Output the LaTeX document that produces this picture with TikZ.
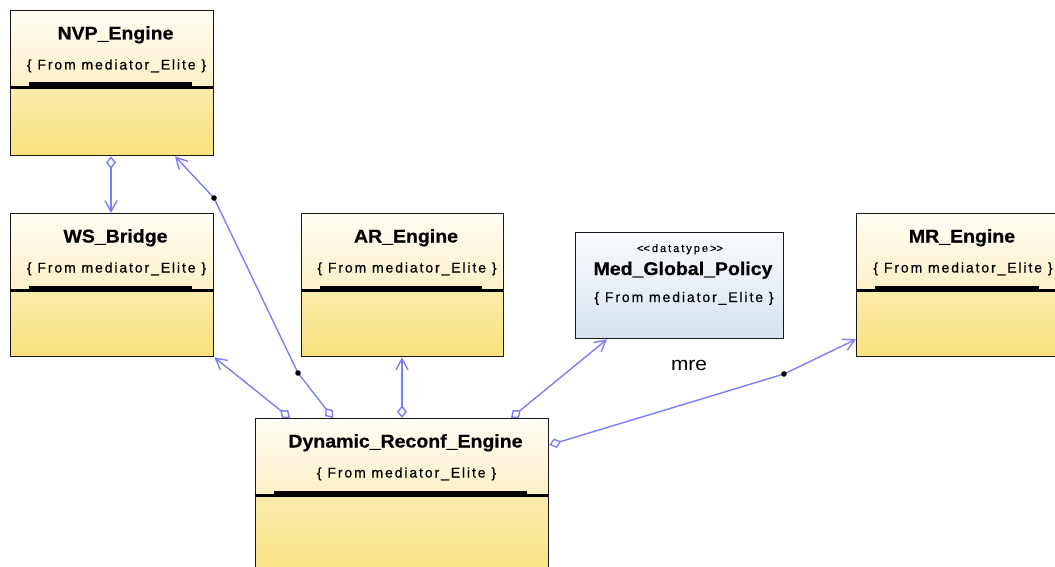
\documentclass[tikz,border=0pt]{standalone}
\usepackage{fontspec}
\setmainfont{Liberation Sans}
\newfontfamily\titlefont[FakeStretch=1.06,FakeBold=0.6]{Liberation Sans}
\newfontfamily\subfont[LetterSpace=13.5,FakeBold=0.5]{Liberation Sans}
\newfontfamily\stfont[LetterSpace=18,FakeBold=0.4]{Liberation Sans}
\newfontfamily\lblfont[FakeStretch=1.1]{Liberation Sans}
\usetikzlibrary{arrows.meta,calc}
\definecolor{conn}{RGB}{125,125,250}
\definecolor{ytop}{RGB}{255,254,246}
\definecolor{ymid}{RGB}{252,240,198}
\definecolor{ylowa}{RGB}{251,236,172}
\definecolor{ylowb}{RGB}{249,225,124}
\definecolor{btop}{RGB}{250,251,253}
\definecolor{bbot}{RGB}{215,227,239}
\definecolor{frame}{RGB}{25,25,25}
\tikzset{
  boxframe/.style={draw=frame, line width=1.3pt, inner sep=0pt, fill=none},
  titletext/.style={anchor=base, font=\titlefont\bfseries\fontsize{18.4}{21}\selectfont},
  subtext/.style={anchor=base, font=\subfont\fontsize{14}{16}\selectfont},
  sttext/.style={anchor=base, font=\stfont\fontsize{11}{13}\selectfont},
  assoc/.style={draw=conn, line width=1.4pt,
    arrows={Diamond[length=12.5pt,width=10pt,fill=white]-Straight Barb[length=11pt,width=12pt]}},
  dot/.style={fill=black},
}
\newcommand\classbox[6]{%
  \shade[top color=ytop, bottom color=ymid] (#2,#3) rectangle (#4,#3+77.5);
  \shade[top color=ylowa, bottom color=ylowb] (#2,#3+77.5) rectangle (#4,#5);
  \node[boxframe, anchor=north west, minimum width={(#4-#2)*1pt}, minimum height={(#5-#3)*1pt}] (#1) at (#2,#3) {};
  \fill[black] (#2+19,#3+72.5) rectangle (#4-21,#3+77.5);
  \draw[black, line width=2.2pt] (#2,#3+77.5) -- (#4,#3+77.5);
  \node[titletext] (#1-t) at ({(#2+#4)/2+4},{#3+29.5}) {#6};
  \node[subtext] (#1-s) at ({(#2+#4)/2+5},{#3+59.5}) {\{ From mediator\_Elite \}};
}
\begin{document}
\begin{tikzpicture}[x=1pt,y=-1pt]
\useasboundingbox (0,0) rectangle (1055,567);
\clip (0,0) rectangle (1055,567);

\classbox{nvp}{10}{10}{213}{155}{NVP\_Engine}
\classbox{ws}{10}{213}{213}{356}{WS\_Bridge}
\classbox{ar}{301}{213}{503}{356}{AR\_Engine}
\classbox{mr}{856}{213}{1060}{356}{MR\_Engine}
\classbox{dyn}{255}{418}{548}{590}{Dynamic\_Reconf\_Engine}

% datatype box
\shade[top color=btop, bottom color=bbot] (575,232) rectangle (783,338);
\node[boxframe, anchor=north west, minimum width=208pt, minimum height=106pt] (med) at (575,232) {};
\node[sttext] (med-st) at (680,252) {<\kern0pt<datatype>\kern0pt>};
\node[titletext] (med-t) at (683,275) {Med\_Global\_Policy};
\node[subtext] (med-s) at (684,302) {\{ From mediator\_Elite \}};

% bend points
\coordinate (b1) at (298,373);
\coordinate (b2) at (214,198);
\coordinate (b3) at (784,374);

% connectors
\draw[assoc] ([xshift=101pt]nvp.south west) -- ([xshift=101pt]ws.north west);
\draw[assoc] ([xshift=35pt]dyn.north west) -- (ws.south east);
\draw[assoc] ([xshift=78pt]dyn.north west) -- (b1) -- (b2) -- ([xshift=165pt]nvp.south west);
\draw[assoc] ([xshift=147pt]dyn.north west) -- ([xshift=101pt]ar.south west);
\draw[assoc] ([xshift=256pt]dyn.north west) -- ([xshift=32pt]med.south west);
\draw[assoc] ([yshift=-27pt]dyn.north east) -- (b3) -- ([yshift=18pt]mr.south west);

\fill[dot] (b1) circle (2.8);
\fill[dot] (b2) circle (2.8);
\fill[dot] (b3) circle (2.8);

\node[font=\lblfont\fontsize{19}{22}\selectfont] (mre) at (689,365) {mre};
\end{tikzpicture}
\end{document}
